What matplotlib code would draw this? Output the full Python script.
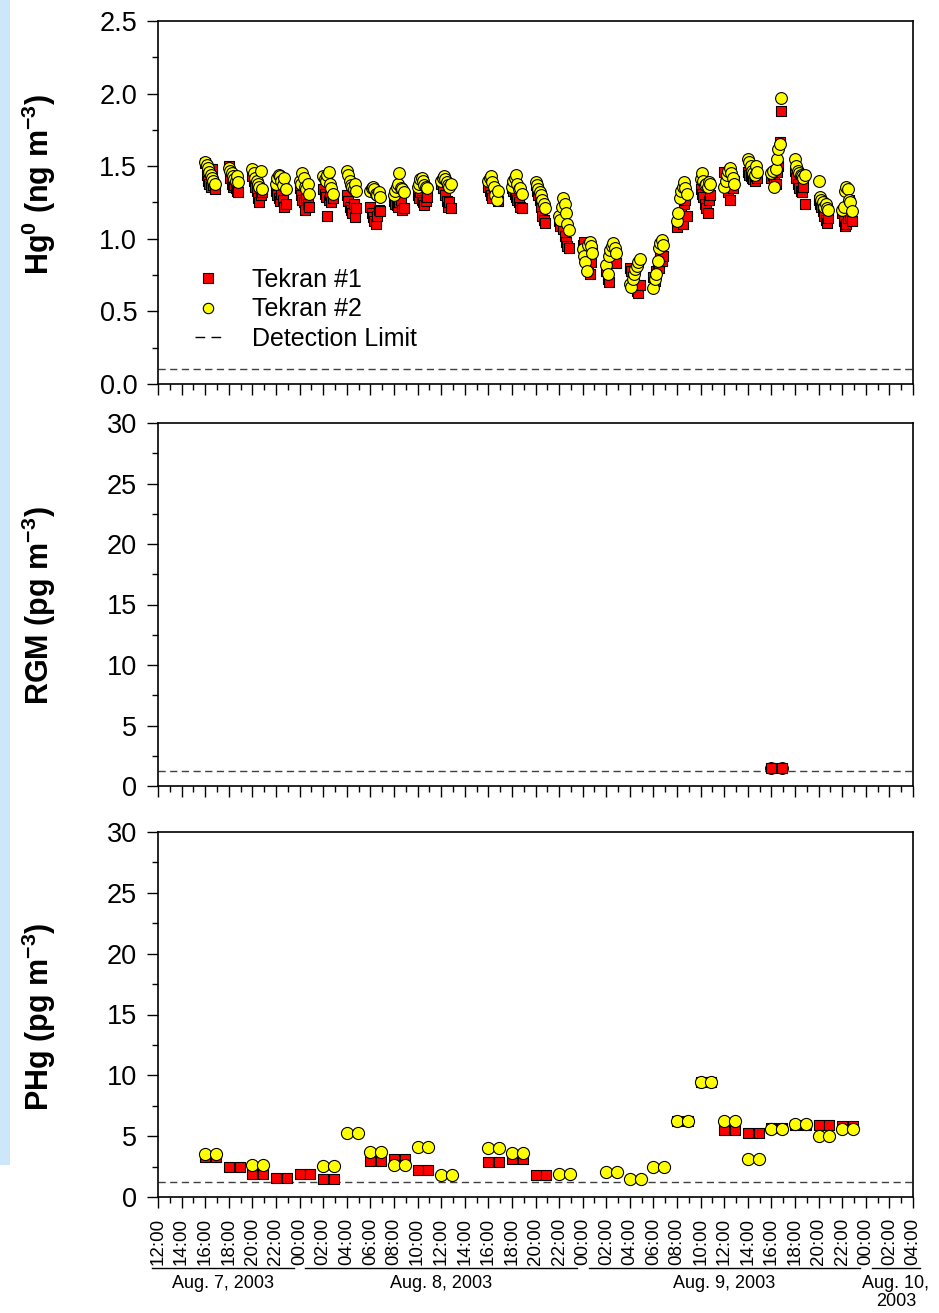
import datetime as dt
import numpy as np
import matplotlib
matplotlib.use("Agg")
import matplotlib.pyplot as plt
import matplotlib.dates as mdates
from matplotlib.lines import Line2D
from matplotlib.ticker import MultipleLocator, AutoMinorLocator, FormatStrFormatter
from matplotlib.transforms import blended_transform_factory

plt.rcParams['font.family'] = ['Liberation Sans', 'DejaVu Sans']
plt.rcParams['mathtext.fontset'] = 'custom'
plt.rcParams['mathtext.rm'] = 'Liberation Sans'
plt.rcParams['mathtext.bf'] = 'Liberation Sans:bold'

nan = np.nan

# ---------------------------------------------------------------- data
T0 = dt.datetime(2003, 8, 7, 12, 0)
T_END = dt.datetime(2003, 8, 10, 4, 0)

# Hg0 sampling cycles: hours after Aug 7 12:00, readings at these minutes
hg0_cycle_hours = [4, 6, 8, 10, 12, 14, 16, 18, 20, 22, 24,
                   28, 30, 32, 34, 36, 38, 40, 42, 44, 46, 48, 50, 52, 54, 56, 58]
hg0_sample_minutes = [0, 7, 14, 21, 28, 35, 42, 49]

hg0_tekran1 = [
    [1.52, 1.44, 1.40, 1.38, 1.36, 1.48, 1.37, 1.34],
    [1.50, 1.42, 1.38, 1.36, 1.37, 1.35, 1.33, 1.32],
    [1.43, 1.40, 1.36, 1.33, 1.28, 1.25, 1.30, 1.32],
    [1.33, 1.30, 1.28, 1.26, 1.31, 1.27, 1.22, 1.24],
    [1.35, 1.30, 1.27, 1.25, 1.20, 1.28, 1.24, 1.22],
    [1.34, 1.31, 1.29, 1.16, 1.27, 1.30, 1.25, 1.28],
    [1.30, 1.26, 1.22, 1.20, 1.18, 1.24, 1.15, 1.21],
    [1.22, 1.18, 1.15, 1.12, 1.10, 1.16, 1.20, 1.19],
    [1.26, 1.24, 1.23, 1.22, 1.25, 1.27, 1.20, 1.21],
    [1.30, 1.28, 1.32, 1.27, 1.25, 1.23, 1.26, 1.29],
    [1.38, 1.35, 1.40, 1.30, 1.26, 1.22, 1.25, 1.21],
    [1.36, 1.33, 1.30, 1.28, 1.34, 1.31, 1.29, 1.26],
    [1.35, 1.33, 1.31, 1.29, 1.27, 1.25, 1.22, 1.21],
    [1.37, 1.33, 1.30, 1.27, 1.22, 1.16, 1.13, 1.11],
    [1.12, 1.09, 1.15, 1.07, 1.02, 0.98, 0.95, 0.94],
    [0.96, 0.98, 0.90, 0.85, 0.80, 0.76, 0.84, 0.92],
    [0.78, 0.72, 0.705, 0.85, 0.90, 0.95, 0.88, 0.83],
    [0.80, 0.78, 0.74, 0.70, 0.66, 0.64, 0.63, 0.68],
    [0.74, 0.71, 0.78, 0.82, 0.80, 0.87, 0.85, 0.88],
    [1.08, 1.12, 1.15, 1.18, 1.10, 1.24, 1.27, 1.16],
    [1.34, 1.31, 1.29, 1.24, 1.21, 1.18, 1.27, 1.30],
    [1.46, 1.42, 1.37, 1.32, 1.27, 1.38, 1.35, 1.40],
    [1.46, 1.44, 1.43, 1.42, 1.41, 1.40, 1.43, 1.42],
    [1.42, 1.44, 1.40, 1.38, 1.46, 1.50, 1.67, 1.88],
    [1.47, 1.42, 1.38, 1.35, 1.33, 1.32, 1.36, 1.24],
    [1.27, 1.24, 1.22, 1.19, 1.16, 1.13, 1.11, 1.14],
    [1.18, 1.12, 1.09, 1.10, 1.14, 1.27, 1.16, 1.12],
]
hg0_tekran2 = [
    [1.53, 1.51, 1.49, 1.46, 1.44, 1.42, 1.40, 1.38],
    [1.49, 1.47, 1.45, 1.43, 1.41, 1.40, 1.43, 1.39],
    [1.48, 1.45, 1.42, 1.40, 1.38, 1.36, 1.47, 1.34],
    [1.38, 1.42, 1.44, 1.43, 1.40, 1.37, 1.42, 1.34],
    [1.40, 1.38, 1.45, 1.42, 1.36, 1.34, 1.38, 1.31],
    [1.43, 1.41, 1.40, 1.44, 1.46, 1.38, 1.35, 1.31],
    [1.47, 1.44, 1.40, 1.37, 1.36, 1.34, 1.38, 1.33],
    [1.33, 1.35, 1.36, 1.34, 1.31, 1.30, 1.32, 1.29],
    [1.30, 1.33, 1.36, 1.38, 1.45, 1.35, 1.34, 1.32],
    [1.36, 1.38, 1.41, 1.42, 1.40, 1.37, 1.36, 1.35],
    [1.40, 1.42, 1.43, 1.41, 1.39, 1.37, 1.36, 1.38],
    [1.40, 1.42, 1.43, 1.39, 1.36, 1.30, 1.27, 1.33],
    [1.36, 1.40, 1.42, 1.44, 1.38, 1.34, 1.35, 1.31],
    [1.39, 1.37, 1.34, 1.32, 1.30, 1.27, 1.24, 1.21],
    [1.16, 1.13, 1.22, 1.28, 1.24, 1.18, 1.10, 1.06],
    [0.93, 0.88, 0.84, 0.78, 0.96, 0.98, 0.95, 0.90],
    [0.82, 0.76, 0.88, 0.92, 0.95, 0.97, 0.94, 0.90],
    [0.69, 0.67, 0.72, 0.76, 0.79, 0.81, 0.84, 0.86],
    [0.66, 0.72, 0.76, 0.85, 0.94, 0.97, 0.99, 0.96],
    [1.12, 1.18, 1.28, 1.33, 1.36, 1.39, 1.35, 1.31],
    [1.41, 1.45, 1.40, 1.37, 1.38, 1.36, 1.39, 1.38],
    [1.36, 1.40, 1.44, 1.47, 1.485, 1.45, 1.42, 1.38],
    [1.55, 1.53, 1.50, 1.47, 1.45, 1.44, 1.50, 1.46],
    [1.45, 1.47, 1.36, 1.48, 1.55, 1.62, 1.65, 1.97],
    [1.55, 1.50, 1.47, 1.45, 1.44, 1.43, 1.42, 1.44],
    [1.40, 1.29, 1.27, 1.25, 1.22, 1.24, 1.21, 1.20],
    [1.20, 1.22, 1.33, 1.36, 1.34, 1.27, 1.25, 1.19],
]

# RGM / PHg: one value per 2-h cycle, shown at start and end of the sampling hour
spec_cycle_hours = list(range(4, 60, 2))
spec_marks_minutes = [0, 55]

rgm_tekran1 = [nan] * 24 + [1.5] + [nan] * 3
rgm_tekran2 = [nan] * 24 + [1.5] + [nan] * 3

phg_tekran1 = [3.3, 2.5, 1.86, 1.53, 1.9, 1.45, nan, 2.96, 3.1, 2.22, nan, nan,
               2.9, 3.1, 1.78, nan, nan, nan, nan, nan,
               6.25, 9.42, 5.5, 5.23, 5.7, 5.95, 5.89, 5.8]
phg_tekran2 = [3.5, nan, 2.63, nan, nan, 2.57, 5.23, 3.73, 2.63, 4.1, 1.8, nan,
               4.0, 3.65, nan, 1.86, nan, 2.03, 1.5, 2.5,
               6.25, 9.42, 6.25, 3.12, 5.56, 5.97, 5.0, 5.59]

detection_limits = {'hg0': 0.1, 'rgm': 1.25, 'phg': 1.25}

day_labels = ["Aug. 7, 2003", "Aug. 8, 2003", "Aug. 9, 2003", "Aug. 10,\n2003"]
day_starts = [dt.datetime(2003, 8, d) for d in (7, 8, 9, 10)]

# ---------------------------------------------------------------- helpers
def hg0_series(values):
    times, vals = [], []
    for h, row in zip(hg0_cycle_hours, values):
        for m, v in zip(hg0_sample_minutes, row):
            times.append(T0 + dt.timedelta(hours=h, minutes=m))
            vals.append(v)
    return times, vals


def spec_series(values):
    times, vals = [], []
    for h, v in zip(spec_cycle_hours, values):
        if np.isnan(v):
            continue
        for m in spec_marks_minutes:
            times.append(T0 + dt.timedelta(hours=h, minutes=m))
            vals.append(v)
    return times, vals


RED = '#FF0000'
YELLOW = '#FFFF00'
DL_COLOR = '#404040'
DASHES = (5.2, 3.2)

W, H = 939, 1313
fig = plt.figure(figsize=(W / 100, H / 100), dpi=100)
fig.patch.set_facecolor('white')

# light blue strip along the left edge
fig.patches.append(plt.Rectangle((0, 1 - 1165 / H), 10 / W, 1165 / H,
                                 transform=fig.transFigure,
                                 facecolor='#CCE6FA', edgecolor='none', zorder=0))


def px_axes(left, top, right, bottom):
    return fig.add_axes([left / W, 1 - bottom / H, (right - left) / W, (bottom - top) / H])


ax1 = px_axes(158, 21, 913, 384)
ax2 = px_axes(158, 423, 913, 786)
ax3 = px_axes(158, 832, 913, 1197)
axes = [ax1, ax2, ax3]

for ax in axes:
    ax.set_xlim(T0, T_END)
    ax.xaxis.set_major_locator(mdates.HourLocator(byhour=range(0, 24, 2)))
    ax.xaxis.set_minor_locator(mdates.HourLocator())
    ax.xaxis.set_major_formatter(mdates.DateFormatter('%H:%M'))
    ax.tick_params(which='major', direction='out', length=8, width=1.0,
                   labelsize=19.5, pad=7, top=False, right=False)
    ax.tick_params(which='minor', direction='out', length=4.5, width=1.0,
                   top=False, right=False)
    for sp in ax.spines.values():
        sp.set_linewidth(1.2)
    ax.yaxis.set_minor_locator(AutoMinorLocator(2))

ax1.tick_params(axis='x', which='both', labelbottom=False)
ax2.tick_params(axis='x', which='both', labelbottom=False)
ax3.tick_params(axis='x', which='major', labelsize=13.5, labelrotation=90, pad=7)

# Hg0 panel
ax1.set_ylim(0, 2.5)
ax1.yaxis.set_major_locator(MultipleLocator(0.5))
ax1.yaxis.set_major_formatter(FormatStrFormatter('%.1f'))
t1, v1 = hg0_series(hg0_tekran1)
t2, v2 = hg0_series(hg0_tekran2)
ax1.scatter(t1, v1, marker='s', s=58, facecolor=RED, edgecolor='black', linewidth=0.8, zorder=3)
ax1.scatter(t2, v2, marker='o', s=72, facecolor=YELLOW, edgecolor='black', linewidth=0.8, zorder=4)
ax1.axhline(detection_limits['hg0'], color=DL_COLOR, lw=1.0, dashes=DASHES, zorder=2)

handles = [
    Line2D([], [], marker='s', ls='none', markersize=7, markerfacecolor=RED,
           markeredgecolor='black', markeredgewidth=0.8),
    Line2D([], [], marker='o', ls='none', markersize=7.5, markerfacecolor=YELLOW,
           markeredgecolor='black', markeredgewidth=0.8),
    Line2D([], [], color='black', lw=1.0, dashes=(7.0, 4.5)),
]
ax1.legend(handles, ['Tekran #1', 'Tekran #2', 'Detection Limit'],
           loc='upper left', bbox_to_anchor=((195 - 158) / 755, (384 - 268) / 363),
           frameon=False, fontsize=18, handlelength=1.05, handletextpad=1.25,
           labelspacing=0.22, borderpad=0, borderaxespad=0)

# RGM panel
ax2.set_ylim(0, 30)
ax2.yaxis.set_major_locator(MultipleLocator(5))
t1, v1 = spec_series(rgm_tekran1)
t2, v2 = spec_series(rgm_tekran2)
ax2.scatter(t2, v2, marker='o', s=72, facecolor=YELLOW, edgecolor='black', linewidth=0.8, zorder=3)
ax2.scatter(t1, v1, marker='s', s=58, facecolor=RED, edgecolor='black', linewidth=0.8, zorder=4)
ax2.axhline(detection_limits['rgm'], color=DL_COLOR, lw=1.0, dashes=DASHES, zorder=2)

# PHg panel
ax3.set_ylim(0, 30)
ax3.yaxis.set_major_locator(MultipleLocator(5))
t1, v1 = spec_series(phg_tekran1)
t2, v2 = spec_series(phg_tekran2)
ax3.scatter(t1, v1, marker='s', s=62, facecolor=RED, edgecolor='black', linewidth=0.8, zorder=3)
ax3.scatter(t2, v2, marker='o', s=76, facecolor=YELLOW, edgecolor='black', linewidth=0.8, zorder=4)
ax3.axhline(detection_limits['phg'], color=DL_COLOR, lw=1.0, dashes=DASHES, zorder=2)

# y-axis titles
ylabels = [('Hg$^{\\mathbf{0}}$ (ng m$^{\\mathbf{-3}}$)', 184),
           ('RGM (pg m$^{\\mathbf{-3}}$)', 606),
           ('PHg (pg m$^{\\mathbf{-3}}$)', 1017)]
for text, yc in ylabels:
    fig.text(39 / W, 1 - yc / H, text, rotation=90, ha='center', va='center',
             fontsize=22, fontweight='bold')

# day bars and labels below the time axis
trans = blended_transform_factory(ax3.transData, ax3.transAxes)
half = dt.timedelta(minutes=30)
for label, d0 in zip(day_labels, day_starts):
    start = max(d0 + half, T0 - half)
    end = min(d0 + dt.timedelta(days=1) - half, T_END + dt.timedelta(minutes=36))
    ax3.add_line(Line2D([mdates.date2num(start), mdates.date2num(end)], [-0.195, -0.195],
                        transform=trans, color='black', lw=1.0, clip_on=False))
    mid = start + (end - start) / 2
    ax3.text(mdates.date2num(mid), -0.214, label, transform=trans, ha='center', va='top',
             fontsize=13, linespacing=1.1, clip_on=False)

fig.savefig('out.png', dpi=100)
